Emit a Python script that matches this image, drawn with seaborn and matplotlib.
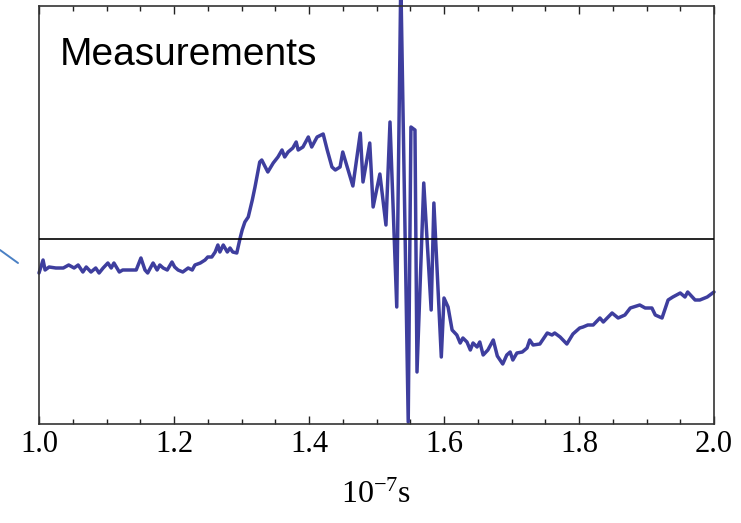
import numpy as np
import pandas as pd
import seaborn as sns
import matplotlib
matplotlib.use("Agg")
import matplotlib.pyplot as plt
from matplotlib.lines import Line2D
from matplotlib.ticker import MultipleLocator

# time in units of 1e-7 s
time = [1.000, 1.006, 1.009, 1.015, 1.025, 1.036, 1.044, 1.052, 1.058, 1.065,
        1.070, 1.077, 1.084, 1.089, 1.095, 1.102, 1.107, 1.111, 1.119, 1.124,
        1.133, 1.144, 1.151, 1.157,
        1.161, 1.169, 1.175, 1.179, 1.184, 1.190, 1.197, 1.201, 1.206, 1.213,
        1.221, 1.227, 1.231, 1.239, 1.246, 1.250, 1.256, 1.261, 1.265, 1.268,
        1.273, 1.279, 1.283, 1.287, 1.293, 1.298, 1.301, 1.305,
        1.310, 1.316, 1.320, 1.327, 1.330, 1.339, 1.347, 1.354, 1.360, 1.364,
        1.369, 1.376, 1.381, 1.384, 1.391, 1.399, 1.404, 1.412, 1.421, 1.427,
        1.434, 1.439, 1.446, 1.450,
        1.465, 1.476, 1.480, 1.490, 1.495, 1.505, 1.514, 1.520, 1.530, 1.536,
        1.547, 1.551, 1.557, 1.560, 1.570, 1.581, 1.585, 1.596, 1.600, 1.606,
        1.612, 1.619, 1.624, 1.628, 1.634, 1.639, 1.643, 1.649, 1.653, 1.658,
        1.665, 1.673, 1.679, 1.683, 1.687, 1.693, 1.698, 1.702, 1.708, 1.716,
        1.723, 1.727, 1.732, 1.742, 1.753, 1.760, 1.764, 1.772, 1.782, 1.791,
        1.801, 1.806, 1.813, 1.821, 1.831, 1.836, 1.849, 1.858, 1.868, 1.876,
        1.890, 1.898, 1.908, 1.913, 1.923, 1.932, 1.939, 1.950, 1.957, 1.961,
        1.972, 1.979, 1.990, 2.000]

signal = [-3.4, -2.1, -3.1, -2.8, -2.9, -2.9, -2.6, -2.9, -2.6, -3.3,
          -2.8, -3.3, -2.9, -3.4, -2.9, -2.4, -2.9, -2.4, -3.3, -3.1,
          -3.1, -3.1, -1.9, -3.1,
          -3.4, -2.4, -3.1, -2.6, -2.9, -3.1, -2.3, -2.8, -3.1, -3.3,
          -2.9, -3.1, -2.6, -2.4, -2.1, -1.8, -1.8, -1.3, -0.6, -1.3,
          -0.6, -1.3, -0.9, -1.3, -1.4, 0.1, 0.9, 1.7,
          2.2, 3.9, 5.2, 7.7, 7.9, 6.7, 7.6, 8.2, 8.9, 8.2,
          8.7, 9.1, 9.7, 8.9, 9.2, 10.2, 9.2, 10.2, 10.5, 8.9,
          7.2, 6.9, 7.2, 8.7,
          5.3, 10.6, 5.7, 9.6, 3.2, 6.5, 1.4, 11.7, -6.8, 26.0,
          -18.3, 11.2, 10.9, -13.3, 5.6, -7.1, 3.6, -11.8, -5.9, -6.8,
          -9.1, -9.6, -10.4, -9.9, -10.3, -11.1, -10.4, -10.8, -10.3, -11.6,
          -11.1, -10.1, -11.7, -12.1, -12.5, -11.6, -11.3, -12.1, -11.4, -11.3,
          -10.9, -10.1, -10.6, -10.5, -9.4, -9.6, -9.4, -9.8, -10.5, -9.5,
          -8.9, -8.8, -8.6, -8.6, -7.9, -8.3, -7.4, -7.9, -7.6, -6.9,
          -6.6, -6.9, -6.9, -7.6, -7.9, -6.1, -5.8, -5.4, -5.8, -5.3,
          -6.1, -6.1, -5.8, -5.3]

xtick_values = [1.0, 1.2, 1.4, 1.6, 1.8, 2.0]
xtick_labels = ["1.0", "1.2", "1.4", "1.6", "1.8", "2.0"]

df = pd.DataFrame({"t": time, "v": signal})

sns.set_style("white")
plt.rcParams["font.family"] = ["Liberation Serif", "DejaVu Serif"]
plt.rcParams["mathtext.fontset"] = "stix"
plt.rcParams["text.color"] = "black"

fig = plt.figure(figsize=(7.41, 5.23), dpi=100)
ax = fig.add_axes([39 / 741, 1 - 424 / 523, 675 / 741, 418 / 523])

sns.lineplot(data=df, x="t", y="v", ax=ax, estimator=None, sort=False,
             color="#3e3e9e", linewidth=2.5)
for ln in ax.lines:
    ln.set_clip_on(False)
ax.axhline(0, color="black", linewidth=1.2, zorder=3)

ax.set_xlim(1.0, 2.0)
ax.set_ylim(-18.5, 23.3)
ax.set_xticks(xtick_values)
ax.set_xticklabels(xtick_labels)
ax.xaxis.set_minor_locator(MultipleLocator(0.05))
ax.set_yticks([])
ax.tick_params(axis="x", which="both", direction="in", top=True, bottom=True,
               labelsize=22, pad=4, color="#222222", labelcolor="black")
ax.tick_params(axis="x", which="major", length=6, width=1.0)
ax.tick_params(axis="x", which="minor", length=3.5, width=1.0)
for s in ax.spines.values():
    s.set_color("#333333")
    s.set_linewidth(1.2)
ax.set_xlabel(r"$\mathregular{10^{-7}}$s", fontsize=23, labelpad=16, color="black")
ax.set_ylabel("")

ax.text(0.031, 0.925, "Measurements", transform=ax.transAxes,
        fontsize=28, family=["Liberation Sans", "DejaVu Sans"],
        ha="left", va="top", color="black")

fig.add_artist(Line2D([0, 18 / 741], [1 - 250 / 523, 1 - 263 / 523],
                      transform=fig.transFigure, color="#4a80c4", linewidth=1.4))

fig.savefig("out.png", dpi=100)
